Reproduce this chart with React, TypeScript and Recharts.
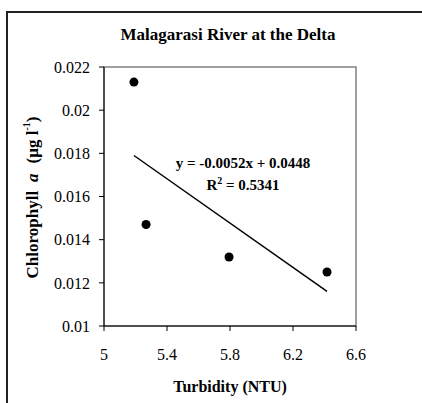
import {
  ReferenceArea,
  Scatter,
  ScatterChart,
  XAxis,
  YAxis,
} from "recharts";

const turbidity = [5.19, 5.267, 5.794, 6.416];
const chlorophyll = [0.0213, 0.0147, 0.0132, 0.0125];
const trendX = [5.19, 6.416];
const trendY = [0.0179, 0.0116];
const xTicks = [5, 5.4, 5.8, 6.2, 6.6];
const yTicks = [0.01, 0.012, 0.014, 0.016, 0.018, 0.02, 0.022];

const points = turbidity.map((x, i) => ({ x, y: chlorophyll[i] }));
const trend = trendX.map((x, i) => ({ x, y: trendY[i] }));

const serif = "Liberation Serif, Times New Roman, serif";

// eslint-disable-next-line @typescript-eslint/no-explicit-any
const renderXTick = (props: any) => (
  <text
    key={props.index}
    x={props.x}
    y={props.y}
    dy="0.71em"
    textAnchor="middle"
    style={{ fontFamily: serif, fontSize: 16 }}
    fill="#000"
  >
    {props.payload.value}
  </text>
);

// eslint-disable-next-line @typescript-eslint/no-explicit-any
const renderYTick = (props: any) => (
  <text
    key={props.index}
    x={props.x}
    y={props.y}
    dy="0.355em"
    textAnchor="end"
    style={{ fontFamily: serif, fontSize: 16 }}
    fill="#000"
  >
    {props.payload.value}
  </text>
);

// eslint-disable-next-line @typescript-eslint/no-explicit-any
const XTitle = (props: any) => {
  const vb = props.viewBox || {};
  return (
    <text
      x={vb.x + vb.width / 2}
      y={386}
      textAnchor="middle"
      dominantBaseline="central"
      style={{ fontFamily: serif, fontWeight: "bold", fontSize: 16 }}
      fill="#000"
    >
      Turbidity (NTU)
    </text>
  );
};

// eslint-disable-next-line @typescript-eslint/no-explicit-any
const YTitle = (props: any) => {
  const vb = props.viewBox || {};
  const cy = vb.y + vb.height / 2 + 1;
  return (
    <text
      x={32}
      y={cy}
      transform={`rotate(-90, 32, ${cy})`}
      textAnchor="middle"
      dominantBaseline="central"
      style={{ fontFamily: serif, fontWeight: "bold", fontSize: 17 }}
      fill="#000"
    >
      Chlorophyll
      <tspan dx={9} fontStyle="italic">
        a
      </tspan>
      <tspan dx={10}>(μg l</tspan>
      <tspan fontSize={10} dy={-6}>
        -1
      </tspan>
      <tspan dy={6}>)</tspan>
    </text>
  );
};

export default function App() {
  return (
    <div
      style={{
        position: "absolute",
        left: 0,
        top: 0,
        width: 422,
        height: 403,
        background: "#fff",
        fontFamily: serif,
      }}
    >
      <div
        style={{
          position: "absolute",
          left: 6,
          top: 11,
          width: 416,
          height: 392,
          borderLeft: "2px solid #222",
          borderTop: "2px solid #222",
        }}
      />
      <div
        style={{
          position: "absolute",
          left: 0,
          width: 456,
          top: 25,
          textAlign: "center",
          fontWeight: "bold",
          fontSize: 17,
          lineHeight: "20px",
        }}
      >
        Malagarasi River at the Delta
      </div>
      <div
        style={{
          position: "absolute",
          left: 160,
          width: 166,
          top: 152,
          textAlign: "center",
          fontWeight: "bold",
          fontSize: 15,
          lineHeight: "22px",
        }}
      >
        y = -0.0052x + 0.0448
        <br />
        R<sup style={{ fontSize: 10, verticalAlign: "6px", lineHeight: 0 }}>2</sup>{" "}
        = 0.5341
      </div>
      <ScatterChart
        width={422}
        height={403}
        margin={{ top: 67, right: 66, bottom: 47, left: 44 }}
        style={{ position: "absolute", left: 0, top: 0, fontFamily: serif }}
      >
        <ReferenceArea
          x1={5}
          x2={6.6}
          y1={0.01}
          y2={0.022}
          fill="none"
          stroke="#808080"
          strokeWidth={1.5}
          ifOverflow="visible"
        />
        <XAxis
          type="number"
          dataKey="x"
          domain={[5, 6.6]}
          ticks={xTicks}
          height={30}
          tickSize={5}
          tickMargin={18}
          stroke="#000"
          tick={renderXTick}
          label={<XTitle />}
        />
        <YAxis
          type="number"
          dataKey="y"
          domain={[0.01, 0.022]}
          ticks={yTicks}
          width={60}
          tickSize={5}
          tickMargin={9}
          stroke="#000"
          tick={renderYTick}
          label={<YTitle />}
        />
        <Scatter
          data={trend}
          line={{ stroke: "#000", strokeWidth: 1.5 }}
          shape={() => <g />}
          isAnimationActive={false}
        />
        <Scatter data={points} fill="#000" isAnimationActive={false} shape="circle" />
      </ScatterChart>
    </div>
  );
}
